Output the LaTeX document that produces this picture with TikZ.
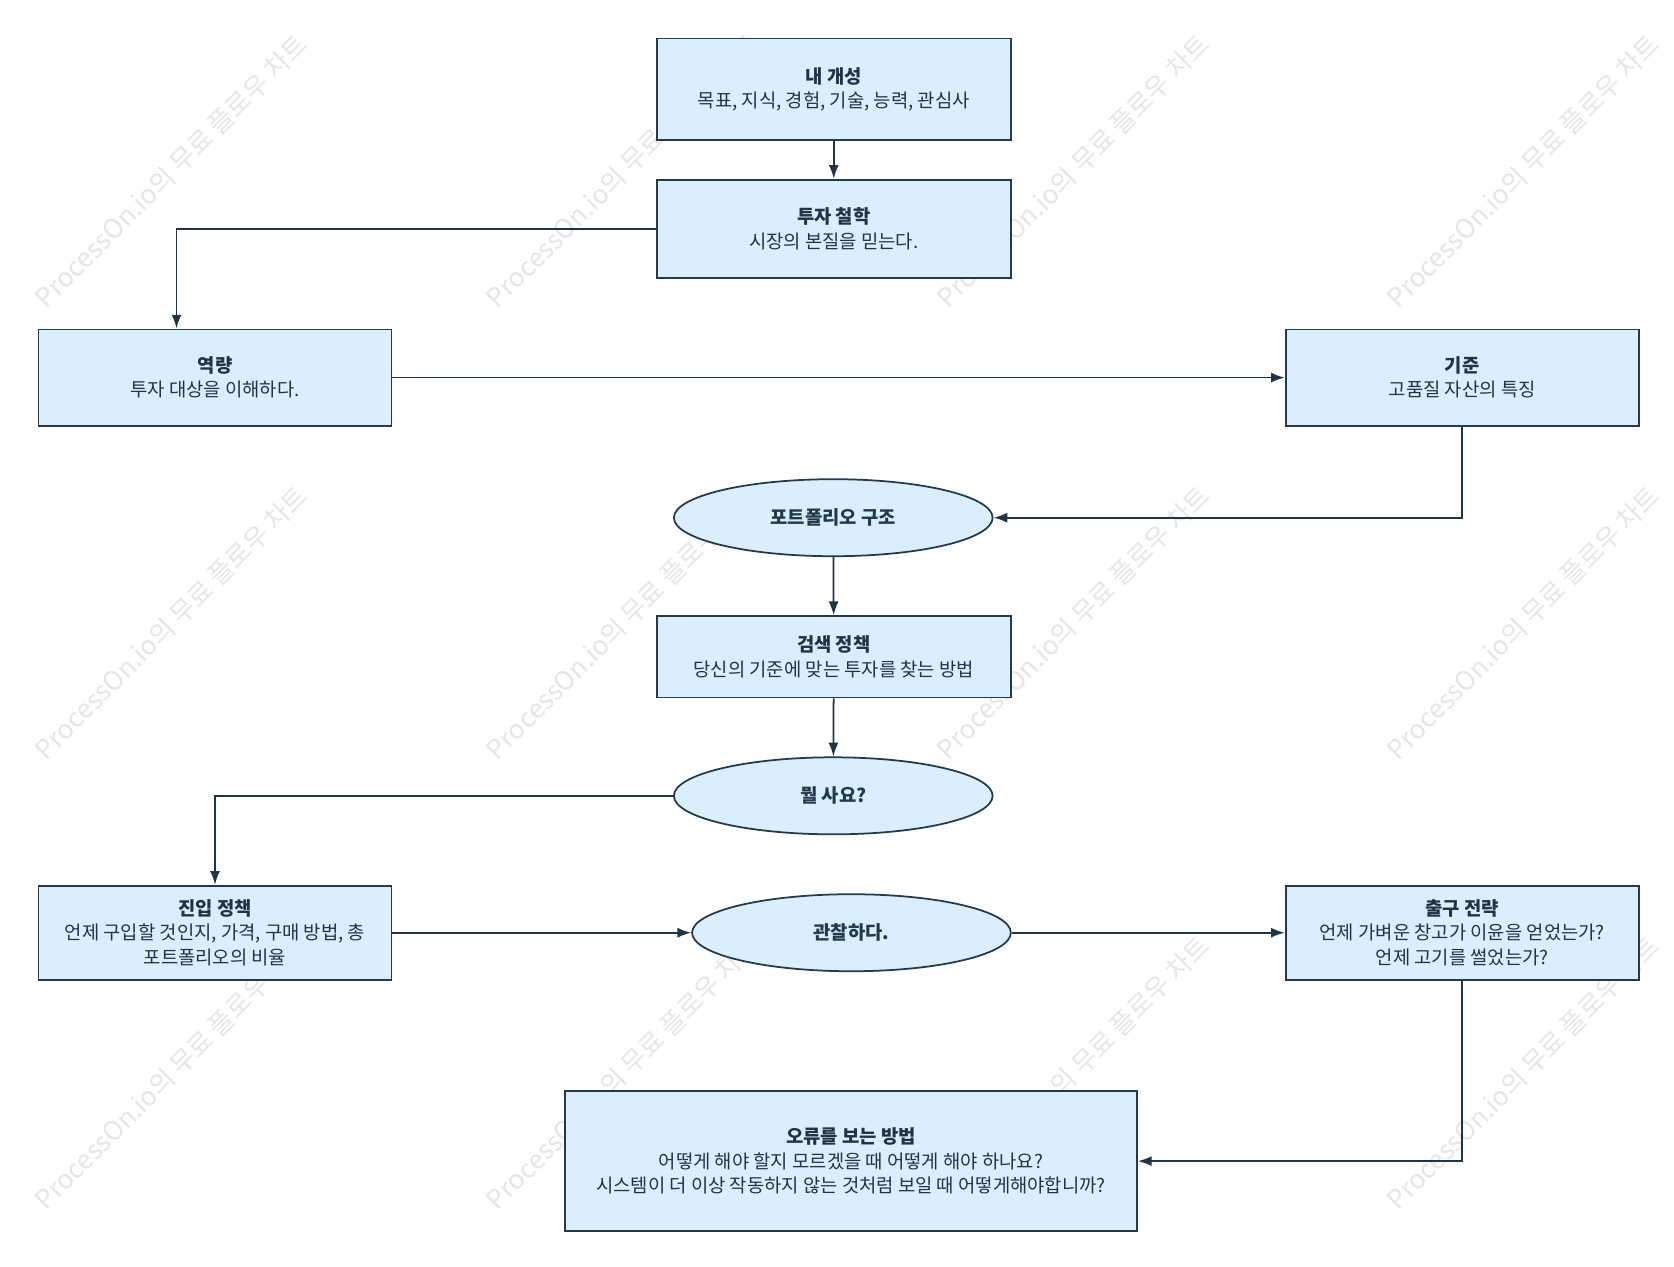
\documentclass[tikz,border=0pt]{standalone}
\usepackage{fontspec}
\setmainfont{Noto Sans CJK KR}
\usetikzlibrary{shapes.geometric,arrows.meta}
\definecolor{fillc}{HTML}{DAEFFB}
\definecolor{linec}{HTML}{233A4D}
\definecolor{wm}{HTML}{E6E6E6}
\begin{document}
\begin{tikzpicture}[x=0.03cm,y=-0.03cm,
  box/.style={draw=linec,fill=fillc,line width=1.4pt,rectangle,align=center,inner sep=0pt,font=\fontsize{15}{19.5}\selectfont,text=linec!90!black},
  ell/.style={draw=linec,fill=fillc,line width=1.4pt,ellipse,inner sep=0pt,font=\fontsize{15}{19.5}\selectfont\bfseries,text=linec},
  arr/.style={draw=linec!90!black,line width=1.4pt,-{Latex[length=11pt,width=8pt]}},
  wmk/.style={text=wm,rotate=45,font=\fontsize{21}{24}\selectfont}]
\useasboundingbox (0,0) rectangle (1565,1184);
\fill[white] (0,0) rectangle (1565,1184);
% watermarks
\foreach \x in {160,582,1003,1424}{
  \foreach \y in {160,582,1003}{
    \node[wmk] (w\x\y) at (\x,\y) {ProcessOn.io의 무료 플로우 차트};
  }
}
\node[box,minimum width=331*0.03cm,minimum height=95*0.03cm] (a) at (779.5,83.5) {\textbf{내 개성}\\목표, 지식, 경험, 기술, 능력, 관심사};
\node[box,minimum width=331*0.03cm,minimum height=92*0.03cm] (b) at (779.5,214) {\textbf{투자 철학}\\시장의 본질을 믿는다.};
\node[box,minimum width=330*0.03cm,minimum height=90*0.03cm] (c) at (201,353) {\textbf{역량}\\투자 대상을 이해하다.};
\node[box,minimum width=330*0.03cm,minimum height=90*0.03cm] (d) at (1367,353) {\textbf{기준}\\고품질 자산의 특징};
\node[ell,minimum width=298*0.03cm,minimum height=72*0.03cm] (e) at (779,484) {포트폴리오 구조};
\node[box,minimum width=331*0.03cm,minimum height=76*0.03cm] (f) at (779.5,614) {\textbf{검색 정책}\\당신의 기준에 맞는 투자를 찾는 방법};
\node[ell,minimum width=298*0.03cm,minimum height=72*0.03cm] (g) at (779,744) {뭘 사요?};
\node[box,minimum width=330*0.03cm,minimum height=88*0.03cm] (h) at (201,872) {\textbf{진입 정책}\\언제 구입할 것인지, 가격, 구매 방법, 총\\포트폴리오의 비율};
\node[ell,minimum width=298*0.03cm,minimum height=72*0.03cm] (i) at (796,872) {관찰하다.};
\node[box,minimum width=330*0.03cm,minimum height=88*0.03cm] (j) at (1367,872) {\textbf{출구 전략}\\언제 가벼운 창고가 이윤을 얻었는가?\\언제 고기를 썰었는가?};
\node[box,minimum width=535*0.03cm,minimum height=131*0.03cm] (k) at (795.5,1085.5) {\textbf{오류를 보는 방법}\\어떻게 해야 할지 모르겠을 때 어떻게 해야 하나요?\\시스템이 더 이상 작동하지 않는 것처럼 보일 때 어떻게해야합니까?};
\draw[arr] (a) -- (b);
\draw[arr] (b.west) -| (c.north -| 165,0);
\draw[arr] (c) -- (d);
\draw[arr] (d.south) |- (e.east);
\draw[arr] (e) -- (f);
\draw[arr] (f) -- (g);
\draw[arr] (g.west) -| (h.north);
\draw[arr] (h) -- (i);
\draw[arr] (i) -- (j);
\draw[arr] (j.south) |- (k.east);
\end{tikzpicture}
\end{document}
